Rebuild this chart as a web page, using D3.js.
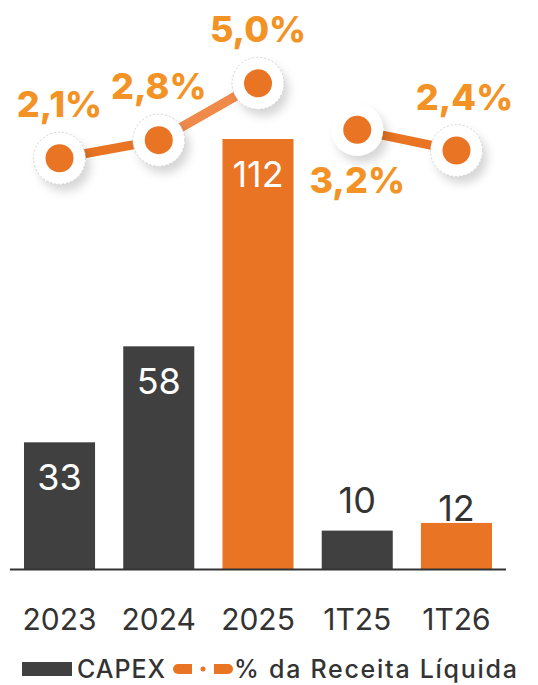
<!DOCTYPE html>
<html>
<head>
<meta charset="utf-8">
<script src="https://cdn.jsdelivr.net/npm/d3@7"></script>
<style>
  body { margin: 0; background: #fff; }
  svg { display: block; font-family: Inter, "Open Sans", sans-serif; }
</style>
</head>
<body>
<div id="chart"></div>
<script>
// data
const categories = ['2023', '2024', '2025', '1T25', '1T26'];
const capex = [33, 58, 112, 10, 12];
const pctReceita = [2.1, 2.8, 5.0, 3.2, 2.4];
const pctLabels = ['2,1%', '2,8%', '5,0%', '3,2%', '2,4%'];
const periodGroup = ['ano', 'ano', 'ano', 'tri', 'tri'];
const highlighted = ['2025', '1T26'];

const width = 538, height = 685;
const dark = '#404040', orange = '#e87424', labelOrange = '#f39325';

const svg = d3.select('#chart').append('svg')
  .attr('width', width)
  .attr('height', height);

const defs = svg.append('defs');
defs.append('filter')
  .attr('id', 'halo-shadow')
  .attr('x', '-60%').attr('y', '-60%')
  .attr('width', '220%').attr('height', '220%')
  .append('feDropShadow')
  .attr('dx', 5).attr('dy', 7)
  .attr('stdDeviation', 5)
  .attr('flood-color', '#000')
  .attr('flood-opacity', 0.16);

// scales
const x = d3.scaleBand()
  .domain(categories)
  .range([10, 506])
  .paddingInner(0.284)
  .paddingOuter(0.141);

const y = d3.scaleLinear()
  .domain([0, 112])
  .range([569, 139]);

const yPct = d3.scaleLinear()
  .domain([0, 6])
  .range([212.5, 57.5]);

const rows = categories.map((c, i) => ({
  cat: c, capex: capex[i], pct: pctReceita[i], label: pctLabels[i], group: periodGroup[i]
}));

// bars
svg.append('g').selectAll('rect')
  .data(rows)
  .join('rect')
  .attr('x', d => x(d.cat))
  .attr('y', d => y(d.capex))
  .attr('width', x.bandwidth())
  .attr('height', d => y(0) - y(d.capex))
  .attr('fill', d => highlighted.includes(d.cat) ? orange : dark);

// bar labels: inside when tall, above when short
const aboveDy = { '1T25': -18, '1T26': -2 };
svg.append('g').selectAll('text')
  .data(rows)
  .join('text')
  .attr('x', d => x(d.cat) + x.bandwidth() / 2)
  .attr('y', d => d.capex > 20 ? y(d.capex) + 48 : y(d.capex) + (aboveDy[d.cat] || -10))
  .attr('text-anchor', 'middle')
  .attr('font-size', 36)
  .attr('font-weight', 400)
  .attr('fill', d => d.capex > 20 ? '#fff' : '#333')
  .text(d => d.capex);

// x axis
const xAxis = svg.append('g')
  .attr('transform', `translate(0,${y(0)})`)
  .call(d3.axisBottom(x).tickSize(0).tickPadding(40));
xAxis.select('.domain')
  .attr('d', 'M10,0.5H506')
  .attr('stroke', '#333')
  .attr('stroke-width', 2);
xAxis.selectAll('text')
  .attr('font-size', 30)
  .attr('font-family', 'Inter, sans-serif')
  .attr('fill', '#333');

// line
const line = d3.line()
  .x(d => x(d.cat) + x.bandwidth() / 2)
  .y(d => yPct(d.pct));

const groups = d3.groups(rows, d => d.group);
svg.append('g').selectAll('path')
  .data(groups)
  .join('path')
  .attr('d', d => line(d[1]))
  .attr('fill', 'none')
  .attr('stroke', orange)
  .attr('stroke-width', 9);

// lighter segment 2024 -> 2025
svg.append('path')
  .attr('d', line(rows.slice(1, 3)))
  .attr('fill', 'none')
  .attr('stroke', '#f08a4b')
  .attr('stroke-width', 9);

// markers
const markers = svg.append('g').selectAll('g')
  .data(rows)
  .join('g')
  .attr('transform', d => `translate(${x(d.cat) + x.bandwidth() / 2},${yPct(d.pct)})`);

markers.append('circle')
  .attr('r', 26)
  .attr('fill', '#fff')
  .attr('filter', 'url(#halo-shadow)');
markers.filter(d => d.cat !== '1T25').append('circle')
  .attr('r', 26)
  .attr('fill', 'none')
  .attr('stroke', '#c8c8c8')
  .attr('stroke-width', 0.8)
  .attr('stroke-dasharray', '2 2');
markers.append('circle')
  .attr('r', 14)
  .attr('fill', orange);

// pct labels, 1T25 placed under its point
svg.append('g').selectAll('text')
  .data(rows)
  .join('text')
  .attr('x', d => x(d.cat) + x.bandwidth() / 2 + (d.cat === '1T26' ? 8 : 0))
  .attr('y', d => d.cat === '1T25' ? yPct(d.pct) + 63 : yPct(d.pct) - 41)
  .attr('text-anchor', 'middle')
  .attr('font-size', 36)
  .attr('font-weight', 800)
  .attr('fill', labelOrange)
  .text(d => d.label);

// legend
const legend = svg.append('g').attr('transform', 'translate(0,669)');
legend.append('rect')
  .attr('x', 22).attr('y', -7)
  .attr('width', 50).attr('height', 14)
  .attr('fill', dark);
legend.append('text')
  .attr('x', 77).attr('y', 9)
  .attr('font-size', 25)
  .attr('font-weight', 500)
  .attr('fill', '#333')
  .attr('textLength', 88)
  .attr('lengthAdjust', 'spacing')
  .text('CAPEX');
legend.append('path')
  .attr('d', 'M178,-5H192V5H178A5,5 0 0 1 178,-5Z')
  .attr('fill', orange);
legend.append('circle')
  .attr('cx', 203).attr('cy', 0).attr('r', 2.5)
  .attr('fill', orange);
legend.append('path')
  .attr('d', 'M214,-5H228A5,5 0 0 1 228,5H214Z')
  .attr('fill', orange);
legend.append('text')
  .attr('x', 234).attr('y', 9)
  .attr('font-size', 25)
  .attr('font-weight', 500)
  .attr('fill', '#333')
  .attr('textLength', 283)
  .attr('lengthAdjust', 'spacing')
  .text('% da Receita Líquida');
</script>
</body>
</html>
